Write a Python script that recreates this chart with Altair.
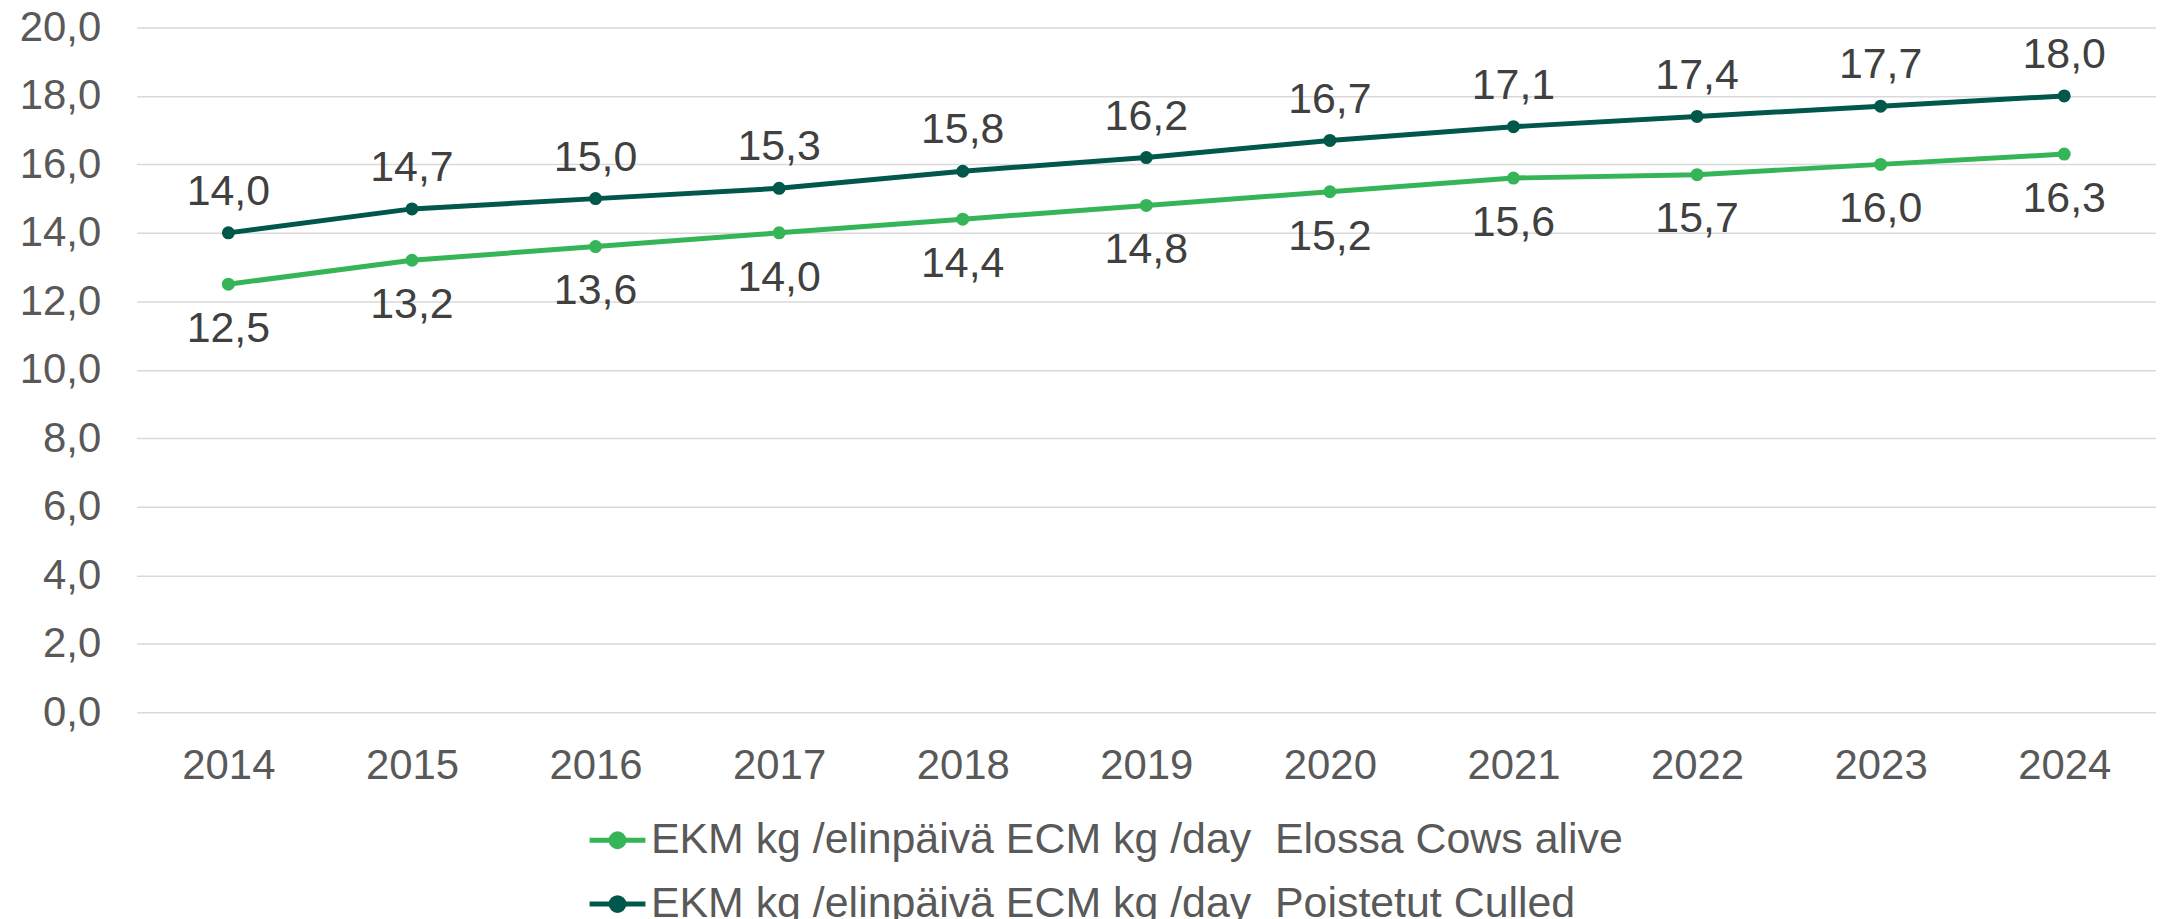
import altair as alt
import pandas as pd

years = ["2014", "2015", "2016", "2017", "2018", "2019", "2020", "2021", "2022", "2023", "2024"]
alive = [12.5, 13.2, 13.6, 14.0, 14.4, 14.8, 15.2, 15.6, 15.7, 16.0, 16.3]
culled = [14.0, 14.7, 15.0, 15.3, 15.8, 16.2, 16.7, 17.1, 17.4, 17.7, 18.0]
series = [
    "EKM kg /elinpäivä ECM kg /day \u00a0Elossa Cows alive",
    "EKM kg /elinpäivä ECM kg /day \u00a0Poistetut Culled",
]
colors = ["#35B558", "#00574A"]

rows = []
for y, a, c in zip(years, alive, culled):
    rows.append({"year": y, "value": a, "series": series[0]})
    rows.append({"year": y, "value": c, "series": series[1]})
df = pd.DataFrame(rows)

FONT = "Liberation Sans"

x = alt.X("year:N", title=None, sort=years,
          scale=alt.Scale(paddingInner=0, paddingOuter=0),
          axis=alt.Axis(labelAngle=0, labelFontSize=42, labelColor="#595959", labelFont=FONT,
                        ticks=False, domain=False, labelPadding=34, grid=False))
y = alt.Y("value:Q", title=None,
          scale=alt.Scale(domain=[0, 20], nice=False),
          axis=alt.Axis(values=[0, 2, 4, 6, 8, 10, 12, 14, 16, 18, 20],
                        labelExpr="replace(format(datum.value, '.1f'), '.', ',')",
                        labelFontSize=42, labelColor="#595959", labelFont=FONT,
                        ticks=False, domain=False, labelPadding=36,
                        gridColor="#D9D9D9", gridWidth=1.5))

legend_path = "M-1,0H1M-0.23,0A0.23,0.23 0 1,1 0.23,0A0.23,0.23 0 1,1 -0.23,0Z"

color = alt.Color("series:N", sort=series,
                  scale=alt.Scale(domain=series, range=colors),
                  legend=alt.Legend(title=None, orient="none", legendX=452, legendY=785,
                                    symbolType=legend_path, symbolSize=3136,
                                    symbolStrokeWidth=5, labelFontSize=43,
                                    labelColor="#595959", labelFont=FONT,
                                    labelOffset=3, rowPadding=11, labelLimit=2000))

base = alt.Chart(df).encode(x=x, y=y, color=color)

lines = base.mark_line(strokeWidth=5, point=alt.OverlayMarkDef(size=170, filled=True, opacity=1))

labels_alive = alt.Chart(df).transform_filter(
    alt.datum.series == series[0]
).transform_calculate(
    lbl="replace(format(datum.value, '.1f'), '.', ',')"
).mark_text(fontSize=43, color="#404040", font=FONT, dy=45, baseline="middle").encode(
    x=alt.X("year:N", sort=years), y="value:Q", text="lbl:N")

labels_culled = alt.Chart(df).transform_filter(
    alt.datum.series == series[1]
).transform_calculate(
    lbl="replace(format(datum.value, '.1f'), '.', ',')"
).mark_text(fontSize=43, color="#404040", font=FONT, dy=-41, baseline="middle").encode(
    x=alt.X("year:N", sort=years), y="value:Q", text="lbl:N")

chart = alt.layer(lines, labels_alive, labels_culled).properties(
    width=2026, height=687,
    autosize=alt.AutoSizeParams(type="none"),
    padding={"left": 129, "top": 18, "right": 0, "bottom": 210},
).configure_view(stroke=None)

chart.save("out.html", embed_options={"renderer": "svg", "actions": False})
